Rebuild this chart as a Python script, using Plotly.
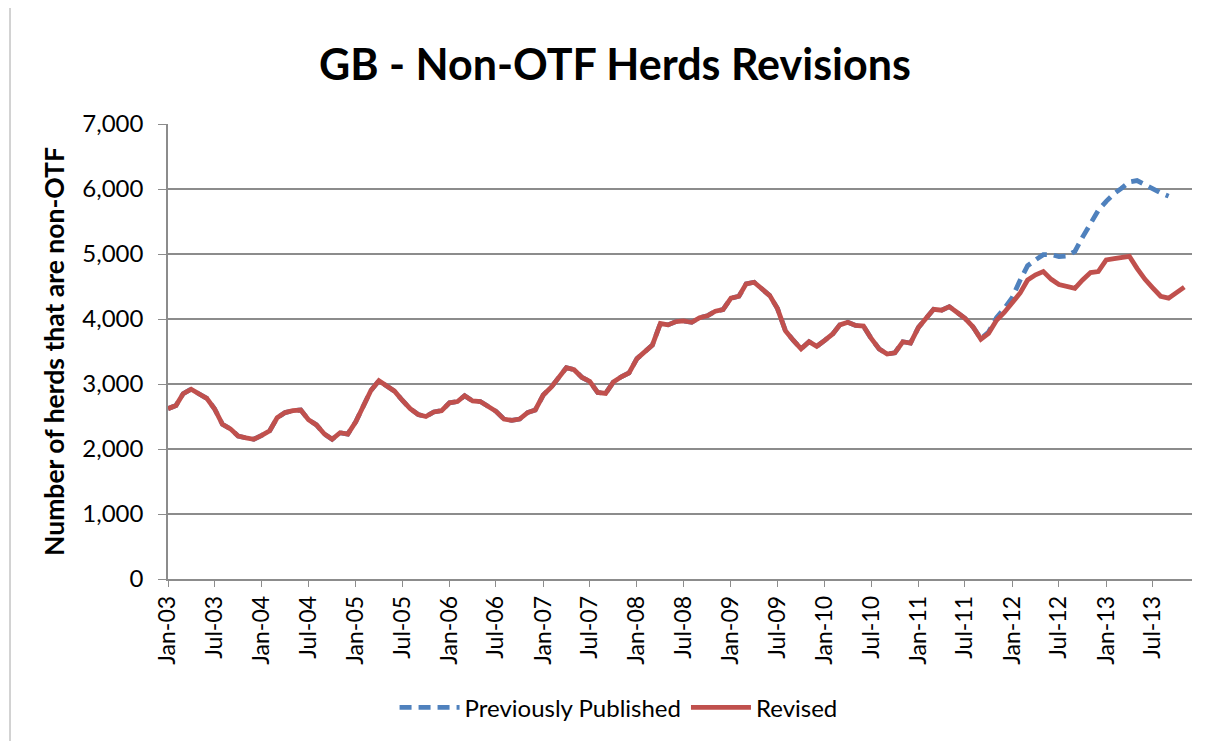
import plotly.graph_objects as go
import pandas as pd

# Monthly categories Jan-03 .. Nov-13
months = pd.date_range("2003-01-01", "2013-11-01", freq="MS")

revised = [
    2620, 2670, 2850, 2920, 2850, 2780, 2620, 2380, 2310, 2200, 2170, 2150,   # 2003
    2210, 2280, 2480, 2560, 2590, 2600, 2450, 2370, 2230, 2150, 2250, 2230,   # 2004
    2420, 2660, 2900, 3050, 2980, 2890, 2750, 2620, 2530, 2500, 2570, 2590,   # 2005
    2710, 2730, 2820, 2740, 2730, 2650, 2580, 2460, 2440, 2460, 2560, 2600,   # 2006
    2830, 2950, 3100, 3250, 3220, 3100, 3040, 2870, 2855, 3030, 3110, 3170,   # 2007
    3390, 3500, 3600, 3930, 3910, 3960, 3970, 3950, 4020, 4050, 4120, 4145,   # 2008
    4320, 4350, 4540, 4565, 4460, 4360, 4160, 3820, 3670, 3540, 3650, 3580,   # 2009
    3670, 3770, 3910, 3950, 3900, 3890, 3700, 3540, 3460, 3480, 3650, 3630,   # 2010
    3870, 4010, 4150, 4135, 4190, 4100, 4010, 3880, 3690, 3780, 3980, 4100,   # 2011
    4250, 4400, 4600, 4680, 4730, 4610, 4530, 4500, 4470, 4600, 4715, 4730,   # 2012
    4910, 4930, 4950, 4965, 4780, 4610, 4480, 4350, 4320, 4400, 4490,         # 2013
]

# Previously published: identical to revised up to Aug-11, then these values (Sep-11 .. Sep-13)
prev_published_tail = [
    3700, 3800, 4020, 4160,                                                   # Sep-11 .. Dec-11
    4330, 4600, 4820, 4910, 4990, 4990, 4960, 4970, 5040, 5260, 5480, 5670,   # 2012
    5810, 5930, 6010, 6110, 6130, 6060, 5990, 5940, 5890,                     # Jan-13 .. Sep-13
]
n_same = 104
previously_published = revised[:n_same] + prev_published_tail

RED = "#C0504D"
BLUE = "#4F81BD"
GRID = "#8C8C8C"
FONT = "Lato"

# page is offset by 8px (body margin); figure size chosen so the plot area lands where the reference has it
W, H = 1199, 733

fig = go.Figure()
fig.add_trace(go.Scatter(
    x=months[:len(previously_published)], y=previously_published,
    mode="lines", name="Previously Published",
    line=dict(color=BLUE, width=4.8, dash="12px,7px"),
))
fig.add_trace(go.Scatter(
    x=months, y=revised, mode="lines", name="Revised",
    line=dict(color=RED, width=4.8),
))

fig.update_layout(
    width=W, height=H,
    margin=dict(l=160, r=W - 1184, t=116, b=H - 572),
    paper_bgcolor="white", plot_bgcolor="white",
    font=dict(family=FONT, size=24, color="black"),
    title=dict(text="<b>GB - Non-OTF Herds Revisions</b>",
               x=0.4365, xref="paper", xanchor="center",
               y=1 - 57 / H, yref="container", yanchor="middle",
               font=dict(family=FONT, size=43, color="black")),
    showlegend=True,
    legend=dict(orientation="h", x=0.44, xanchor="center", y=-0.28, yanchor="middle",
                font=dict(size=24), itemwidth=60, traceorder="normal"),
    shapes=[dict(type="rect", xref="paper", yref="paper",
                 x0=(10 - 168) / 1024, x1=(1204 - 168) / 1024,
                 y0=(580 - 760) / 456, y1=(580 - 9) / 456 + 0.2,
                 line=dict(color="#A6A6A6", width=1), fillcolor="rgba(0,0,0,0)", layer="below")],
)

fig.update_xaxes(
    type="date",
    range=["2003-01-01", "2013-12-01"],
    tick0="2003-01-01", dtick="M6", tickformat="%b-%y",
    tickangle=-90,
    showgrid=False, zeroline=False,
    showline=True, linecolor=GRID, linewidth=1.5,
    ticks="outside", ticklen=6, tickcolor=GRID, tickwidth=1,
    tickfont=dict(size=23),
)
fig.update_yaxes(
    range=[0, 7000], dtick=1000, tickformat=",",
    showgrid=True, gridcolor=GRID, gridwidth=1.5,
    zeroline=False,
    showline=True, linecolor=GRID, linewidth=1.5,
    ticks="outside", ticklen=8, tickcolor=GRID, tickwidth=1,
    ticklabelstandoff=10,
    tickfont=dict(size=24),
    title=dict(text="<b>Number of herds that are non-OTF</b>", font=dict(size=26.5), standoff=10),
)

fig.write_html("out.html")
